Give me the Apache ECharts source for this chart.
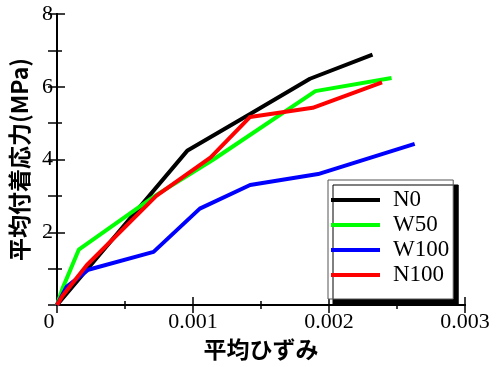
<!DOCTYPE html>
<html>
<head>
<meta charset="utf-8">
<script src="https://cdn.jsdelivr.net/npm/echarts@6/dist/echarts.min.js"></script>
<style>
  html, body { margin: 0; padding: 0; background: #fff; }
  #charts { width: 496px; height: 367px; }
</style>
</head>
<body>
<div id="charts"></div>
<script>
// 平均ひずみ / 平均付着応力(MPa)
let seriesNames = ["N0", "W50", "W100", "N100"];
let seriesColors = ["#000000", "#00ff00", "#0000ff", "#ff0000"];

let n0 = [[0, 0], [0.00096, 4.25], [0.00142, 5.25], [0.00186, 6.22], [0.00232, 6.88]];
let w50 = [[0, 0], [0.00004, 0.45], [0.00016, 1.52], [0.00072, 3.0], [0.00115, 4.0], [0.0019, 5.88], [0.00246, 6.24]];
let w100 = [[0, 0], [0.00007, 0.5], [0.00023, 0.97], [0.00071, 1.46], [0.00105, 2.65], [0.00142, 3.3], [0.00192, 3.6], [0.00263, 4.43]];
let n100 = [[0, 0], [0.00004, 0.25], [0.00022, 1.1], [0.00073, 3.0], [0.00113, 4.06], [0.00142, 5.17], [0.00188, 5.42], [0.00239, 6.12]];

let xTicks = [0, 0.001, 0.002, 0.003];
let yTicks = [0, 2, 4, 6, 8];

let serif = "Liberation Serif";
let cjk = "Noto Sans CJK JP";
let allData = [n0, w50, w100, n100];

let myChart = echarts.init(document.getElementById("charts"));

let tickStyle = { color: "#000", width: 1.5 };

let option = {
  animation: false,
  grid: { left: 57, right: 31, top: 14, bottom: 62 },
  legend: {
    orient: "vertical",
    left: 328,
    top: 180,
    data: seriesNames,
    icon: "rect",
    itemWidth: 49,
    itemHeight: 4,
    itemGap: 1,
    padding: [8, 4, 12, 3],
    backgroundColor: "#fff",
    borderColor: "#555",
    borderWidth: 1,
    shadowColor: "#000",
    shadowBlur: 0,
    shadowOffsetX: 5,
    shadowOffsetY: 5,
    textStyle: { fontFamily: serif, fontSize: 23, color: "#000", lineHeight: 24, padding: [0, 0, 0, 8] }
  },
  xAxis: [
    {
      type: "value",
      min: xTicks[0],
      max: xTicks[xTicks.length - 1],
      interval: 0.001,
      name: "平均ひずみ",
      nameLocation: "middle",
      nameGap: 33,
      nameTextStyle: { fontFamily: cjk, fontWeight: "bold", fontSize: 23, color: "#000" },
      axisLine: { lineStyle: { color: "#000", width: 2 } },
      axisTick: { inside: true, length: 8, lineStyle: tickStyle },
      minorTick: { show: true, splitNumber: 2, length: 4, lineStyle: tickStyle },
      splitLine: { show: false },
      axisLabel: {
        margin: 6,
        fontFamily: serif,
        fontSize: 22,
        color: "#000",
        formatter: function (v) {
          return v === 0 ? "{z|0}" : v.toFixed(3);
        },
        rich: { z: { fontFamily: serif, fontSize: 22, color: "#000", padding: [0, 16, 0, 0] } }
      }
    },
    {
      type: "value",
      position: "top",
      min: xTicks[0],
      max: xTicks[xTicks.length - 1],
      interval: 0.001,
      axisLine: { show: true, lineStyle: { color: "#000", width: 2 } },
      axisTick: { inside: true, length: 8, lineStyle: tickStyle },
      minorTick: { show: true, splitNumber: 2, length: 4, lineStyle: tickStyle },
      splitLine: { show: false },
      axisLabel: { show: false }
    }
  ],
  yAxis: [
    {
      type: "value",
      min: yTicks[0],
      max: yTicks[yTicks.length - 1],
      interval: 2,
      name: "平均付着応力(MPa)",
      nameLocation: "middle",
      nameGap: 25,
      nameTextStyle: { fontFamily: cjk, fontWeight: "bold", fontSize: 23, color: "#000" },
      axisLine: { show: true, lineStyle: { color: "#000", width: 2 } },
      axisTick: { inside: true, length: 8, lineStyle: tickStyle },
      minorTick: { show: true, splitNumber: 2, length: 5, lineStyle: tickStyle },
      splitLine: { show: false },
      axisLabel: {
        margin: 4,
        fontFamily: serif,
        fontSize: 22,
        color: "#000",
        formatter: function (v) {
          return v === 0 ? "" : String(v);
        }
      }
    },
    {
      type: "value",
      position: "right",
      min: yTicks[0],
      max: yTicks[yTicks.length - 1],
      interval: 1,
      axisLine: { show: true, lineStyle: { color: "#000", width: 2 } },
      axisTick: { inside: true, length: 9, lineStyle: tickStyle },
      splitLine: { show: false },
      axisLabel: { show: false }
    }
  ],
  series: seriesNames.map(function (name, i) {
    return {
      name: name,
      type: "line",
      data: allData[i],
      xAxisIndex: 0,
      yAxisIndex: 0,
      symbol: "none",
      color: seriesColors[i],
      lineStyle: { color: seriesColors[i], width: 4 }
    };
  })
};

myChart.setOption(option);
</script>
</body>
</html>
